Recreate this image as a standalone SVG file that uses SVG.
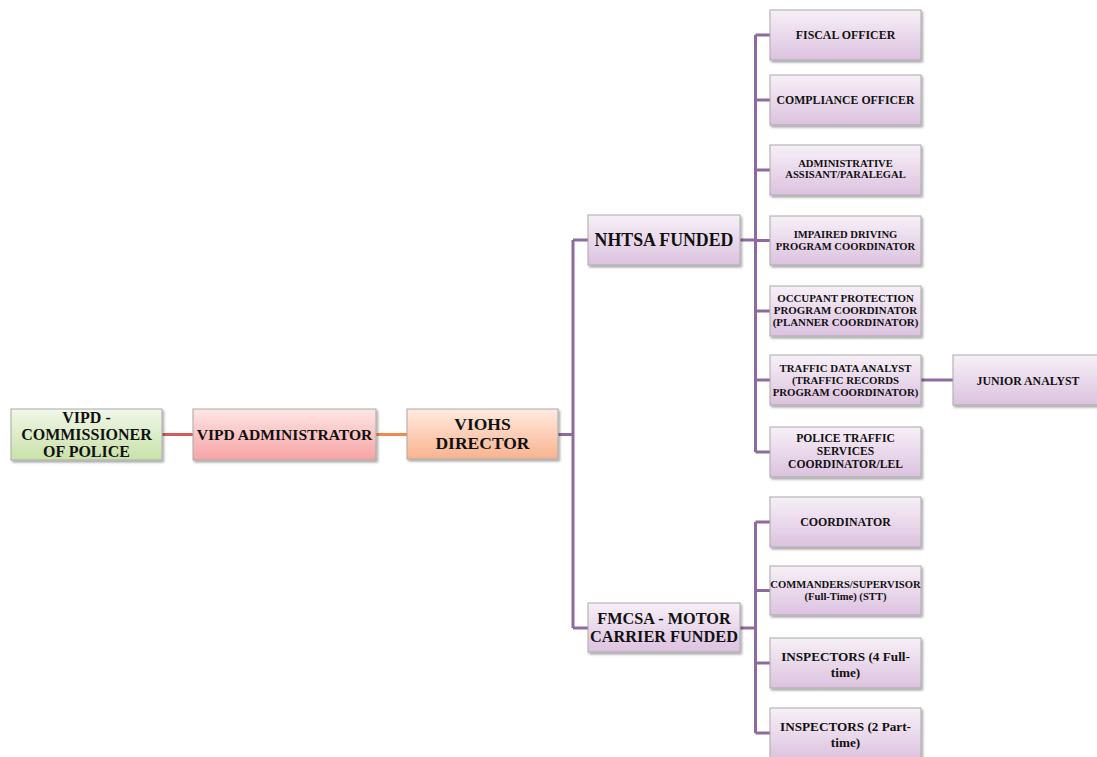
<svg xmlns="http://www.w3.org/2000/svg" width="1097" height="757" viewBox="0 0 1097 757">
<defs>
<linearGradient id="gPurple" x1="0" y1="0" x2="0" y2="1"><stop offset="0" stop-color="#f7f0f8"/><stop offset="1" stop-color="#dcc2df"/></linearGradient>
<linearGradient id="gGreen" x1="0" y1="0" x2="0" y2="1"><stop offset="0" stop-color="#f0f7e8"/><stop offset="1" stop-color="#c9e2a9"/></linearGradient>
<linearGradient id="gRed" x1="0" y1="0" x2="0" y2="1"><stop offset="0" stop-color="#ffe6e6"/><stop offset="1" stop-color="#f5a3a3"/></linearGradient>
<linearGradient id="gOrange" x1="0" y1="0" x2="0" y2="1"><stop offset="0" stop-color="#ffeadf"/><stop offset="1" stop-color="#f9b38f"/></linearGradient>
<filter id="sh" x="-10%" y="-10%" width="130%" height="140%"><feDropShadow dx="1.5" dy="2" stdDeviation="1.2" flood-color="#000" flood-opacity="0.35"/></filter>
</defs>
<style>
.box{stroke:#a9a9a9;stroke-width:1;filter:url(#sh);}
.p{fill:url(#gPurple);}
.t{font-family:"Liberation Serif","Times New Roman",serif;font-weight:bold;fill:#111;text-anchor:middle;}
.c{fill:none;stroke-width:3;}
.cp{stroke:#8f6aa0;}
</style>
<rect width="1097" height="757" fill="#fff"/>
<g id="connectors">
<line class="c" x1="162" y1="434.5" x2="193" y2="434.5" stroke="#d45c5a"/>
<line class="c" x1="376" y1="434.5" x2="407" y2="434.5" stroke="#ef8a48"/>
<path class="c cp" d="M558 434.5H573M573 240V628M573 240H588M573 628H588"/>
<path class="c cp" d="M740 240H755.5M755.5 35V452M755.5 35H770M755.5 100H770M755.5 170H770M755.5 240.5H770M755.5 311H770M755.5 380H770M755.5 452H770"/>
<path class="c cp" d="M740 628H755.5M755.5 522V733M755.5 522H770M755.5 590.5H770M755.5 663H770M755.5 733H770"/>
<line class="c cp" x1="921" y1="380" x2="953" y2="380"/>
</g>
<g id="commissioner"><rect class="box" x="11" y="409" width="151" height="51" fill="url(#gGreen)"/><text class="t" font-size="16"><tspan x="86.5" y="423">VIPD -</tspan><tspan x="86.5" y="440">COMMISSIONER</tspan><tspan x="86.5" y="457">OF POLICE</tspan></text></g>
<g id="administrator"><rect class="box" x="193" y="409" width="183" height="51" fill="url(#gRed)"/><text class="t" font-size="15.6" x="284.5" y="440">VIPD ADMINISTRATOR</text></g>
<g id="director"><rect class="box" x="407" y="409" width="151" height="50" fill="url(#gOrange)"/><text class="t" font-size="17.5"><tspan x="482.5" y="430">VIOHS</tspan><tspan x="482.5" y="449">DIRECTOR</tspan></text></g>
<g id="nhtsa"><rect class="box p" x="588" y="215" width="152" height="50"/><text class="t" font-size="17.8" x="664" y="246">NHTSA FUNDED</text></g>
<g id="fmcsa"><rect class="box p" x="588" y="603" width="152" height="49"/><text class="t" font-size="16.3"><tspan x="664" y="624">FMCSA - MOTOR</tspan><tspan x="664" y="642">CARRIER FUNDED</tspan></text></g>
<g id="fiscal"><rect class="box p" x="770" y="10" width="151" height="50"/><text class="t" font-size="11.9" x="845.5" y="39">FISCAL OFFICER</text></g>
<g id="compliance"><rect class="box p" x="770" y="75" width="151" height="50"/><text class="t" font-size="11.8" x="845.5" y="104">COMPLIANCE OFFICER</text></g>
<g id="admin-assistant"><rect class="box p" x="770" y="145" width="151" height="50"/><text class="t" font-size="10.6"><tspan x="845.5" y="167">ADMINISTRATIVE</tspan><tspan x="845.5" y="178">ASSISANT/PARALEGAL</tspan></text></g>
<g id="impaired"><rect class="box p" x="770" y="216" width="151" height="49"/><text class="t" font-size="10.6"><tspan x="845.5" y="238">IMPAIRED DRIVING</tspan><tspan x="845.5" y="250">PROGRAM COORDINATOR</tspan></text></g>
<g id="occupant"><rect class="box p" x="770" y="286" width="151" height="50"/><text class="t" font-size="10.9"><tspan x="845.5" y="302">OCCUPANT PROTECTION</tspan><tspan x="845.5" y="314">PROGRAM COORDINATOR</tspan><tspan x="845.5" y="326">(PLANNER COORDINATOR)</tspan></text></g>
<g id="traffic-data"><rect class="box p" x="770" y="355" width="151" height="50"/><text class="t" font-size="10.8"><tspan x="845.5" y="372">TRAFFIC DATA ANALYST</tspan><tspan x="845.5" y="384">(TRAFFIC RECORDS</tspan><tspan x="845.5" y="396">PROGRAM COORDINATOR)</tspan></text></g>
<g id="police-traffic"><rect class="box p" x="770" y="427" width="151" height="50"/><text class="t" font-size="11.6"><tspan x="845.5" y="442">POLICE TRAFFIC</tspan><tspan x="845.5" y="455">SERVICES</tspan><tspan x="845.5" y="468">COORDINATOR/LEL</tspan></text></g>
<g id="junior-analyst"><rect class="box p" x="953" y="355" width="145" height="50"/><text class="t" font-size="11.8" x="1028" y="385">JUNIOR ANALYST</text></g>
<g id="coordinator"><rect class="box p" x="770" y="497" width="151" height="50"/><text class="t" font-size="11.9" x="845.5" y="526">COORDINATOR</text></g>
<g id="commanders"><rect class="box p" x="770" y="566" width="151" height="49"/><text class="t" font-size="10.6"><tspan x="845.5" y="588">COMMANDERS/SUPERVISOR</tspan><tspan x="845.5" y="600">(Full-Time) (STT)</tspan></text></g>
<g id="inspectors-full"><rect class="box p" x="770" y="638" width="151" height="50"/><text class="t" font-size="13.2"><tspan x="845.5" y="661">INSPECTORS (4 Full-</tspan><tspan x="845.5" y="677">time)</tspan></text></g>
<g id="inspectors-part"><rect class="box p" x="770" y="708" width="151" height="52"/><text class="t" font-size="13.2"><tspan x="845.5" y="731">INSPECTORS (2 Part-</tspan><tspan x="845.5" y="747">time)</tspan></text></g>
</svg>
